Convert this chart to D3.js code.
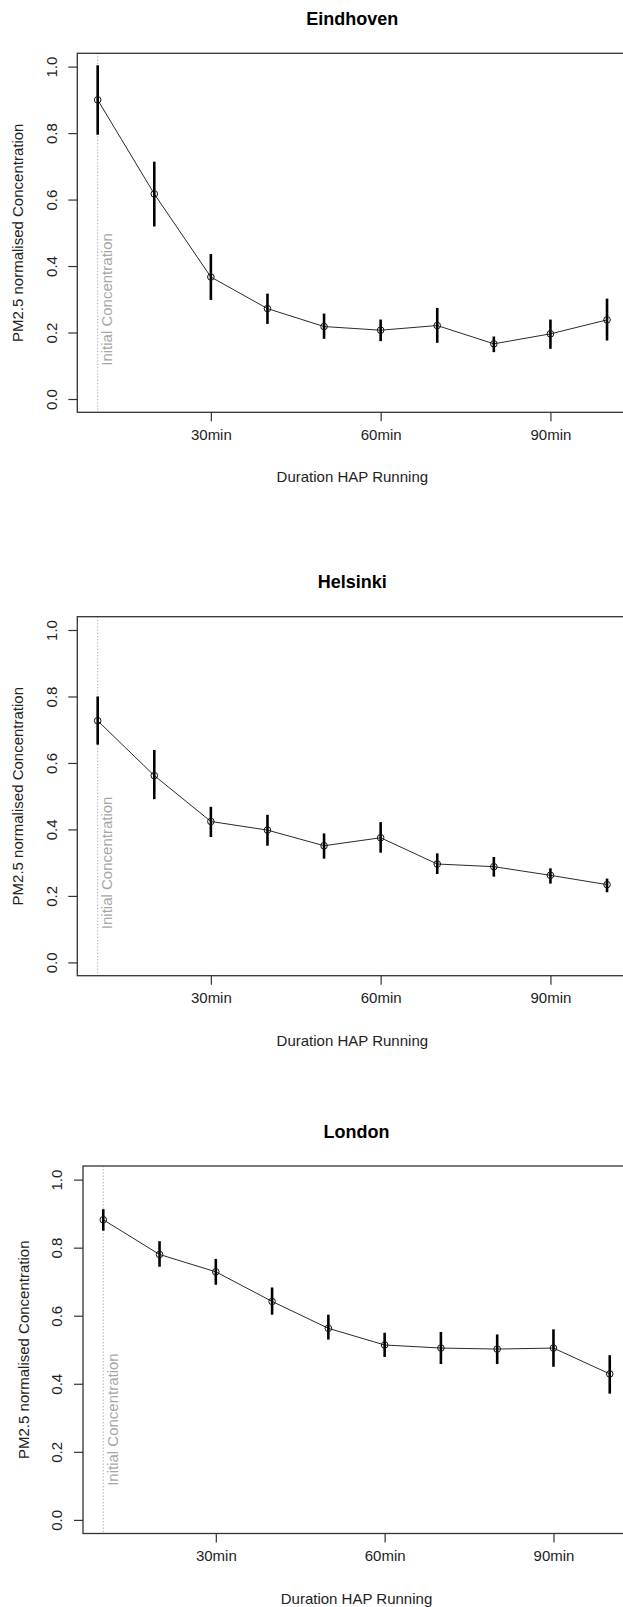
<!DOCTYPE html>
<html>
<head>
<meta charset="utf-8">
<script src="https://cdn.jsdelivr.net/npm/d3@7"></script>
<style>
  html, body { margin: 0; padding: 0; background: #fff; }
  svg { display: block; }
  text { font-family: "Liberation Sans", Arial, Helvetica, sans-serif; }
</style>
</head>
<body>
<svg id="chart" width="623" height="1607"></svg>
<script>
// ---------- data ----------
const minutes = [10, 20, 30, 40, 50, 60, 70, 80, 90, 100];
const xTickValues = [30, 60, 90];
const xTickLabels = ["30min", "60min", "90min"];
const yTickValues = [0, 0.2, 0.4, 0.6, 0.8, 1.0];
const yTickLabels = ["0.0", "0.2", "0.4", "0.6", "0.8", "1.0"];
const cities = ["Eindhoven", "Helsinki", "London"];

const eindhovenMean = [0.900, 0.617, 0.367, 0.272, 0.218, 0.207, 0.221, 0.166, 0.196, 0.238];
const eindhovenLow  = [0.795, 0.519, 0.298, 0.226, 0.181, 0.174, 0.169, 0.141, 0.151, 0.176];
const eindhovenHigh = [1.004, 0.714, 0.436, 0.317, 0.257, 0.239, 0.274, 0.188, 0.239, 0.302];

const helsinkiMean = [0.727, 0.562, 0.424, 0.398, 0.351, 0.375, 0.296, 0.288, 0.262, 0.234];
const helsinkiLow  = [0.655, 0.491, 0.377, 0.351, 0.312, 0.330, 0.266, 0.258, 0.237, 0.211];
const helsinkiHigh = [0.800, 0.639, 0.468, 0.444, 0.388, 0.422, 0.328, 0.317, 0.283, 0.252];

const londonMean = [0.882, 0.780, 0.729, 0.642, 0.563, 0.514, 0.505, 0.502, 0.505, 0.429];
const londonLow  = [0.850, 0.744, 0.691, 0.603, 0.530, 0.479, 0.458, 0.458, 0.450, 0.371];
const londonHigh = [0.913, 0.819, 0.767, 0.683, 0.603, 0.550, 0.552, 0.545, 0.560, 0.484];

const initialMinute = 10;
const initialLabel = "Initial Concentration";
const initialLabelY = 0.1;
const xAxisTitle = "Duration HAP Running";
const yAxisTitle = "PM2.5 normalised Concentration";

const seriesMean = [eindhovenMean, helsinkiMean, londonMean];
const seriesLow = [eindhovenLow, helsinkiLow, londonLow];
const seriesHigh = [eindhovenHigh, helsinkiHigh, londonHigh];

// ---------- layout ----------
const panels = [
  { left: 77.3, right: 627.4, top: 53.3, bottom: 412.3 },
  { left: 77.3, right: 627.4, top: 616.7, bottom: 975.7 },
  { left: 83.0, right: 630.0, top: 1166.0, bottom: 1533.5 }
];

const svg = d3.select("#chart");
const axisCol = "#333";
const textCol = "#222";
const greyCol = "#a6a6a6";
const fs = 15;

cities.forEach((city, i) => {
  const p = panels[i];
  // R-style 4% extension of ranges
  const xExt = (100 - 10) * 0.04;
  const x = d3.scaleLinear().domain([10 - xExt, 100 + xExt]).range([p.left, p.right]);
  const y = d3.scaleLinear().domain([-0.04, 1.04]).range([p.bottom, p.top]);
  const g = svg.append("g");

  const rows = minutes.map((m, k) => ({ m, v: seriesMean[i][k], lo: seriesLow[i][k], hi: seriesHigh[i][k] }));

  // dotted initial line
  g.append("line")
    .attr("x1", x(initialMinute)).attr("x2", x(initialMinute))
    .attr("y1", p.top).attr("y2", p.bottom)
    .attr("stroke", greyCol).attr("stroke-width", 1)
    .attr("stroke-dasharray", "1.2,2");

  // initial label
  g.append("text")
    .attr("transform", `translate(${x(initialMinute) + 14.5},${y(initialLabelY)}) rotate(-90)`)
    .attr("text-anchor", "start")
    .attr("font-size", fs)
    .attr("fill", greyCol)
    .text(initialLabel);

  // connecting line
  g.append("path")
    .datum(rows)
    .attr("fill", "none")
    .attr("stroke", "#2a2a2a")
    .attr("stroke-width", 1)
    .attr("d", d3.line().x(d => x(d.m)).y(d => y(d.v)));

  // error bars
  g.selectAll("line.err").data(rows).enter().append("line")
    .attr("class", "err")
    .attr("x1", d => x(d.m)).attr("x2", d => x(d.m))
    .attr("y1", d => y(d.lo)).attr("y2", d => y(d.hi))
    .attr("stroke", "#000").attr("stroke-width", 2.6);

  // points
  g.selectAll("circle").data(rows).enter().append("circle")
    .attr("cx", d => x(d.m)).attr("cy", d => y(d.v))
    .attr("r", 3.3)
    .attr("fill", "none")
    .attr("stroke", "#111").attr("stroke-width", 1);

  // box
  g.append("rect")
    .attr("x", p.left).attr("y", p.top)
    .attr("width", p.right - p.left).attr("height", p.bottom - p.top)
    .attr("fill", "none").attr("stroke", axisCol).attr("stroke-width", 1.3);

  // x axis
  const xAxis = d3.axisBottom(x)
    .tickValues(xTickValues)
    .tickFormat((d, k) => xTickLabels[k])
    .tickSize(9).tickPadding(8);
  const gx = g.append("g").attr("transform", `translate(0,${p.bottom})`).call(xAxis);
  gx.select(".domain").remove();
  gx.selectAll(".tick line").attr("stroke", axisCol).attr("stroke-width", 1.2);
  gx.selectAll(".tick text").attr("font-size", fs).attr("fill", textCol)
    .attr("font-family", "Liberation Sans, Arial, sans-serif")
    .attr("dy", "0.71em");

  // y axis
  const yAxis = d3.axisLeft(y)
    .tickValues(yTickValues)
    .tickFormat((d, k) => yTickLabels[k])
    .tickSize(9);
  const gy = g.append("g").attr("transform", `translate(${p.left},0)`).call(yAxis);
  gy.select(".domain").remove();
  gy.selectAll(".tick line").attr("stroke", axisCol).attr("stroke-width", 1.2);
  gy.selectAll(".tick text")
    .attr("font-size", fs).attr("fill", textCol)
    .attr("font-family", "Liberation Sans, Arial, sans-serif")
    .attr("x", null).attr("dy", null)
    .attr("text-anchor", "middle")
    .attr("transform", `translate(-20.6,0) rotate(-90)`);

  // title
  g.append("text")
    .attr("x", (p.left + p.right) / 2)
    .attr("y", p.top - 28.5)
    .attr("text-anchor", "middle")
    .attr("font-size", 18).attr("font-weight", "bold")
    .attr("fill", "#000")
    .text(city);

  // x axis title
  g.append("text")
    .attr("x", (p.left + p.right) / 2)
    .attr("y", p.bottom + 70)
    .attr("text-anchor", "middle")
    .attr("font-size", fs).attr("fill", textCol)
    .text(xAxisTitle);

  // y axis title
  g.append("text")
    .attr("transform", `translate(${p.left - 54},${(p.top + p.bottom) / 2}) rotate(-90)`)
    .attr("text-anchor", "middle")
    .attr("font-size", fs).attr("fill", textCol)
    .text(yAxisTitle);
});
</script>
</body>
</html>
